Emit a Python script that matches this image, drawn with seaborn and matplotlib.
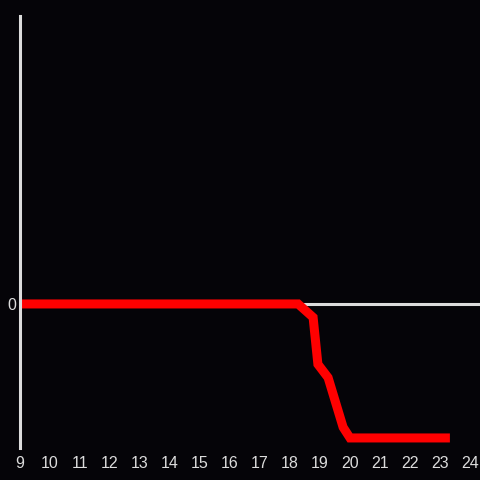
import matplotlib
matplotlib.use("Agg")
import matplotlib.pyplot as plt
import seaborn as sns
import pandas as pd

# hour of day and relative value
hours = [9, 10, 11, 12, 13, 14, 15, 16, 17, 18, 18.27, 18.77, 18.93, 19.27, 19.77, 20.0, 21, 22, 23, 23.33]
values = [0, 0, 0, 0, 0, 0, 0, 0, 0, 0, 0, -0.10, -0.45, -0.55, -0.92, -1.0, -1.0, -1.0, -1.0, -1.0]
xticks = list(range(9, 25))

bg = "#050408"
fg = "#dcdcdc"

sns.set_style("dark")
plt.rcParams["font.family"] = ["Liberation Sans", "DejaVu Sans"]

df = pd.DataFrame({"hour": hours, "value": values})

fig = plt.figure(figsize=(4.8, 4.8), dpi=100, facecolor=bg)
ax = fig.add_axes([20 / 480, 32 / 480, 460 / 480, 432 / 480])
ax.set_facecolor(bg)

ax.axhline(0, color=fg, linewidth=2.2, zorder=1)
sns.lineplot(data=df, x="hour", y="value", color="#ff0000", linewidth=6.5,
             solid_capstyle="butt", solid_joinstyle="miter", ax=ax, zorder=2)

ax.set_xlim(9, 9 + 460 / 30)
ax.set_ylim(-1.075, 2.149)
ax.set_xticks(xticks)
ax.set_xticklabels([str(t) for t in xticks])
ax.set_yticks([0])
ax.set_yticklabels(["0"])
ax.set_xlabel("")
ax.set_ylabel("")
ax.grid(False)

for side in ["top", "right", "bottom"]:
    ax.spines[side].set_visible(False)
ax.spines["left"].set_color(fg)
ax.spines["left"].set_linewidth(2.2)

ax.tick_params(axis="both", length=0, colors=fg, labelsize=11.5)
ax.tick_params(axis="x", pad=6)
ax.tick_params(axis="y", pad=3)

fig.savefig("out.png", dpi=100, facecolor=bg)
plt.close(fig)
